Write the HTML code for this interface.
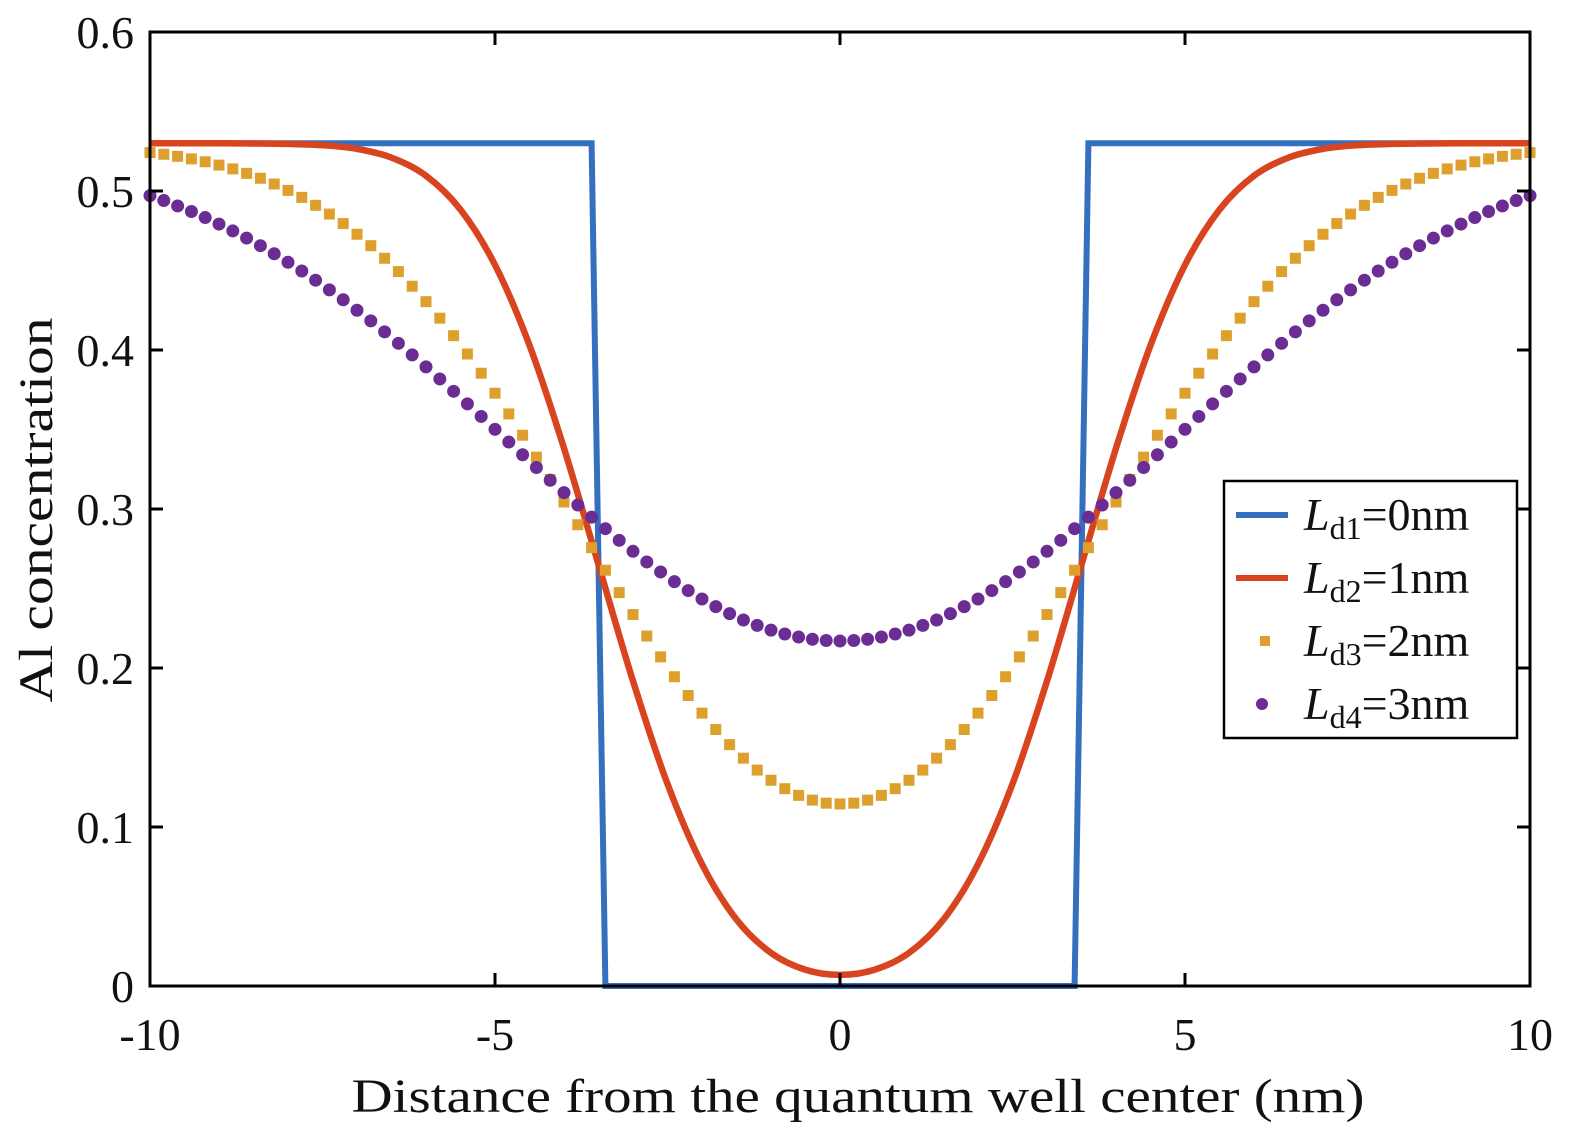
<!DOCTYPE html>
<html><head><meta charset="utf-8"><style>
html,body{margin:0;padding:0;background:#fff;}
svg{display:block;font-family:"Liberation Serif","Times New Roman",serif;}
text,tspan{font-family:"Liberation Serif","Times New Roman",serif;}
</style></head><body>
<svg id="chart" width="1575" height="1148" viewBox="0 0 1575 1148">
<g id="plot"></g>
</svg>
<script>
const xTicks=[-10,-5,0,5,10];
const xTickLabels=["-10","-5","0","5","10"];
const yTicks=[0,0.1,0.2,0.3,0.4,0.5,0.6];
const yTickLabels=["0","0.1","0.2","0.3","0.4","0.5","0.6"];
const seriesNames=["Ld1=0nm","Ld2=1nm","Ld3=2nm","Ld4=3nm"];
const ld1X=[-10,-3.6,-3.4,3.4,3.6,10];
const ld1Y=[0.53,0.53,0,0,0.53,0.53];
const ld2X=[-10,-9.5,-9,-8.5,-8,-7.5,-7,-6.5,-6,-5.5,-5,-4.5,-4,-3.5,-3,-2.5,-2,-1.5,-1,-0.5,0,0.5,1,1.5,2,2.5,3,3.5,4,4.5,5,5.5,6,6.5,7,7.5,8,8.5,9,9.5,10];
const ld2Y=[.53,.53,.53,.5299,.5296,.5288,.5265,.5210,.5096,.4883,.4535,.4029,.3382,.2650,.1918,.1271,.0766,.0418,.0208,.0102,.0070,.0102,.0208,.0418,.0766,.1271,.1918,.2650,.3382,.4029,.4535,.4883,.5096,.5210,.5265,.5288,.5296,.5299,.53,.53,.53];
const markerX=[];for(let i=0;i<=100;i++)markerX.push(-10+i*0.2);
const ld3Y=[.5242,.5231,.5218,.5202,.5184,.5163,.5139,.5111,.5080,.5044,.5004,.4960,.4910,.4855,.4795,.4728,.4656,.4577,.4493,.4401,.4304,.4200,.4090,.3975,.3854,.3728,.3598,.3464,.3326,.3186,.3044,.2901,.2757,.2615,.2474,.2336,.2201,.2070,.1945,.1827,.1716,.1613,.1518,.1433,.1358,.1294,.1241,.1199,.1169,.1150,
.1145,
.1150,.1169,.1199,.1241,.1294,.1358,.1433,.1518,.1613,.1716,.1827,.1945,.2070,.2201,.2336,.2474,.2615,.2757,.2901,.3044,.3186,.3326,.3464,.3598,.3728,.3854,.3975,.4090,.4200,.4304,.4401,.4493,.4577,.4656,.4728,.4795,.4855,.4910,.4960,.5004,.5044,.5080,.5111,.5139,.5163,.5184,.5202,.5218,.5231,.5242];
const ld4Y=[.4971,.4940,.4906,.4871,.4833,.4792,.4749,.4704,.4656,.4605,.4552,.4497,.4439,.4378,.4316,.4250,.4183,.4114,.4042,.3969,.3894,.3818,.3740,.3661,.3582,.3501,.3421,.3341,.3261,.3181,.3103,.3025,.2949,.2876,.2803,.2734,.2667,.2604,.2543,.2487,.2434,.2386,.2342,.2302,.2268,.2238,.2214,.2195,.2181,.2173,
.2170,
.2173,.2181,.2195,.2214,.2238,.2268,.2302,.2342,.2386,.2434,.2487,.2543,.2604,.2667,.2734,.2803,.2876,.2949,.3025,.3103,.3181,.3261,.3341,.3421,.3501,.3582,.3661,.3740,.3818,.3894,.3969,.4042,.4114,.4183,.4250,.4316,.4378,.4439,.4497,.4552,.4605,.4656,.4704,.4749,.4792,.4833,.4871,.4906,.4940,.4971];

const L=150,R=1530,T=32,B=986;
const xs=v=>L+(v+10)/20*(R-L);
const ys=v=>B-v/0.6*(B-T);
const NS="http://www.w3.org/2000/svg";
const g=document.getElementById('plot');
function mk(tag,attrs,parent){const e=document.createElementNS(NS,tag);for(const k in attrs)e.setAttribute(k,attrs[k]);(parent||g).appendChild(e);return e;}

let d1=ld1X.map((x,i)=>(i?'L':'M')+xs(x)+','+ys(ld1Y[i])).join('');
const p1=mk('path',{d:d1,fill:'none',stroke:'#3470bf','stroke-width':6,'stroke-linejoin':'miter'});



const pts=ld2X.map((x,i)=>[xs(x),ys(ld2Y[i])]);
let d2='M'+pts[0][0]+','+pts[0][1];
for(let i=0;i<pts.length-1;i++){const p0=pts[Math.max(i-1,0)],a=pts[i],b=pts[i+1],p3=pts[Math.min(i+2,pts.length-1)];
const c1=[a[0]+(b[0]-p0[0])/6,a[1]+(b[1]-p0[1])/6],c2=[b[0]-(p3[0]-a[0])/6,b[1]-(p3[1]-a[1])/6];
d2+='C'+c1[0]+','+c1[1]+' '+c2[0]+','+c2[1]+' '+b[0]+','+b[1];}
const p2=mk('path',{d:d2,fill:'none',stroke:'#d8441f','stroke-width':6.5});



const g3=mk('g',{});


markerX.forEach((x,i)=>{const r=mk('rect',{x:xs(x)-5.5,y:ys(ld3Y[i])-5.5,width:11,height:11,fill:'#dea02c'},g3);

});
const g4=mk('g',{});


markerX.forEach((x,i)=>{const c=mk('circle',{cx:xs(x),cy:ys(ld4Y[i]),r:6.5,fill:'#6b2c94'},g4);

});

const box=mk('rect',{x:L,y:T,width:R-L,height:B-T,fill:'none',stroke:'#000','stroke-width':3});


xTicks.forEach((v,i)=>{const x=xs(v);
const t1=mk('path',{d:`M${x},${B}V${B-13}M${x},${T}V${T+13}`,stroke:'#000','stroke-width':3});


const t=mk('text',{x:x,y:1050,'font-size':46,'text-anchor':'middle',fill:'#111'});t.textContent=xTickLabels[i];

});
yTicks.forEach((v,i)=>{const y=ys(v);
const t1=mk('path',{d:`M${L},${y}H${L+13}M${R},${y}H${R-13}`,stroke:'#000','stroke-width':3});


const t=mk('text',{x:134,y:y+16,'font-size':46,'text-anchor':'end',fill:'#111'});t.textContent=yTickLabels[i];

});

const xt=mk('text',{x:858,y:1112,'font-size':48,'text-anchor':'middle',fill:'#111',textLength:1013,lengthAdjust:'spacingAndGlyphs'});
xt.textContent='Distance from the quantum well center (nm)';


const yt=mk('text',{x:0,y:0,'font-size':48,'text-anchor':'middle',fill:'#111',transform:'translate(52,510) rotate(-90)',textLength:385,lengthAdjust:'spacingAndGlyphs'});
yt.textContent='Al concentration';



const lg=mk('g',{});


const lb=mk('rect',{x:1224,y:481,width:293,height:257,fill:'#fff',stroke:'#000','stroke-width':2.5},lg);


const legY=[515,578,641,704];
const subs=['d1','d2','d3','d4'];const vals=['=0nm','=1nm','=2nm','=3nm'];
legY.forEach((y,i)=>{
let m;
if(i===0)m=mk('path',{d:`M1236,${y}H1288`,stroke:'#3470bf','stroke-width':6},lg);
else if(i===1)m=mk('path',{d:`M1236,${y}H1288`,stroke:'#d8441f','stroke-width':6},lg);
else if(i===2)m=mk('rect',{x:1260,y:y-5,width:10,height:10,fill:'#dea02c'},lg);
else m=mk('circle',{cx:1262,cy:y,r:6,fill:'#6b2c94'},lg);


const t=mk('text',{x:1304,y:y+15,'font-size':46,fill:'#111','font-family':'Liberation Serif, serif'},lg);


const a=document.createElementNS(NS,'tspan');a.setAttribute('font-style','italic');a.textContent='L';t.appendChild(a);
const b=document.createElementNS(NS,'tspan');b.setAttribute('font-size','32');b.setAttribute('dy','9');b.textContent=subs[i];t.appendChild(b);
const c=document.createElementNS(NS,'tspan');c.setAttribute('dy','-9');c.setAttribute('font-size','46');c.textContent=vals[i];t.appendChild(c);
});
</script>
</body></html>
